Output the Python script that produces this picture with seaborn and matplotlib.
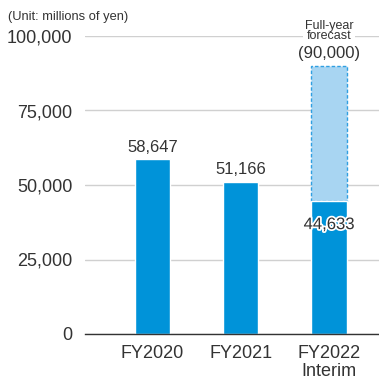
import matplotlib
matplotlib.use("Agg")
import matplotlib.pyplot as plt
import matplotlib.patheffects as pe
import seaborn as sns
import pandas as pd

categories = ["FY2020", "FY2021", "FY2022\nInterim"]
values = [58647, 51166, 44633]
value_labels = ["58,647", "51,166", "44,633"]
forecast_value = 90000
forecast_label = "(90,000)"
y_ticks = [0, 25000, 50000, 75000, 100000]
y_tick_labels = ["0", "25,000", "50,000", "75,000", "100,000"]

DARK = "#0093d9"
LIGHT = "#a8d5f2"
EDGE = "#2f9fe2"
TXT = "#333333"

sns.set_theme(style="white")
plt.rcParams["font.family"] = ["Liberation Sans", "DejaVu Sans"]

fig = plt.figure(figsize=(3.79, 3.79), dpi=100)
ax = fig.add_axes([85/379, 1-334/379, 1-85/379, 298/379])

df = pd.DataFrame({"cat": categories, "val": values})

# forecast portion (light, dashed edge)
ax.bar([2], [forecast_value - values[2]], bottom=[values[2]], width=0.4,
       color=LIGHT, edgecolor=EDGE, linewidth=1.0, linestyle=(0, (2.5, 1.5)), zorder=2)

sns.barplot(data=df, x="cat", y="val", color=DARK, width=0.4, saturation=1,
            ax=ax, zorder=3)

ax.set_xlim(-0.765, 2.567)
ax.set_ylim(0, 100000)
ax.set_yticks(y_ticks)
ax.set_yticklabels(y_tick_labels, fontsize=13, color=TXT)
ax.tick_params(axis="x", labelsize=13, colors=TXT, length=0, pad=8)
ax.tick_params(axis="y", length=0, pad=9)
for lbl in ax.get_xticklabels():
    lbl.set_linespacing(1.1)
ax.set_xlabel("")
ax.set_ylabel("")

for s in ["top", "right", "left"]:
    ax.spines[s].set_visible(False)
ax.spines["bottom"].set_color(TXT)
ax.spines["bottom"].set_linewidth(1.0)
ax.spines["bottom"].set_zorder(4)
ax.yaxis.grid(True, color="#d0d0d0", linewidth=1.0, zorder=0)
ax.set_axisbelow(True)

# value labels
for i in range(2):
    ax.annotate(value_labels[i], xy=(i, values[i]), xytext=(0, 3), textcoords="offset points",
                ha="center", va="bottom", fontsize=12, color=TXT)
ax.annotate(value_labels[2], xy=(2, values[2]), xytext=(0, -17), textcoords="offset points",
            ha="center", va="center", fontsize=12, color=TXT, zorder=6,
            path_effects=[pe.withStroke(linewidth=2.5, foreground="white")])

# forecast labels
ax.annotate(forecast_label, xy=(2, forecast_value), xytext=(0, 9), textcoords="offset points",
            ha="center", va="center", fontsize=12, color=TXT, annotation_clip=False)
ax.annotate("Full-year\nforecast", xy=(2, forecast_value), xytext=(0, 25), textcoords="offset points",
            ha="center", va="center", fontsize=9, color=TXT, linespacing=0.8,
            annotation_clip=False,
            bbox=dict(boxstyle="square,pad=0.15", facecolor="white", edgecolor="none"))

fig.text(8/379, 1-17/379, "(Unit: millions of yen)", ha="left", va="center",
         fontsize=9.3, color=TXT)

fig.savefig("out.png", dpi=100)
